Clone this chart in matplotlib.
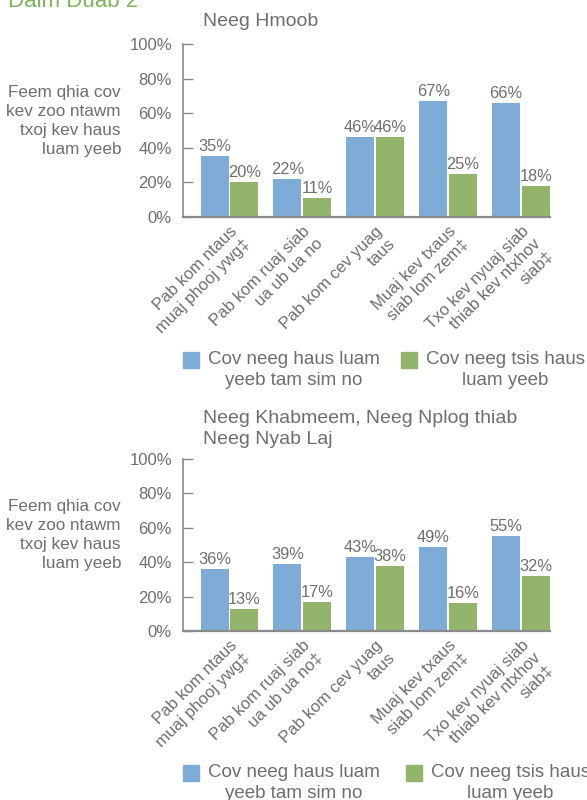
import matplotlib
matplotlib.use('Agg')
import matplotlib.pyplot as plt
from matplotlib.patches import Rectangle
import numpy as np

plt.rcParams['font.family'] = ['Liberation Sans', 'DejaVu Sans']

# ---------------- data ----------------
fig_title = "Daim Duab 2"
title_top = "Neeg Hmoob"
title_bottom = "Neeg Khabmeem, Neeg Nplog thiab\nNeeg Nyab Laj"
ylabel_text = "Feem qhia cov\nkev zoo ntawm\ntxoj kev haus\nluam yeeb"

categories_top = ["Pab kom ntaus\nmuaj phooj ywg‡", "Pab kom ruaj siab\nua ub ua no",
                  "Pab kom cev yuag\ntaus", "Muaj kev txaus\nsiab lom zem‡",
                  "Txo kev nyuaj siab\nthiab kev ntxhov\nsiab‡"]
categories_bottom = ["Pab kom ntaus\nmuaj phooj ywg‡", "Pab kom ruaj siab\nua ub ua no‡",
                     "Pab kom cev yuag\ntaus", "Muaj kev txaus\nsiab lom zem‡",
                     "Txo kev nyuaj siab\nthiab kev ntxhov\nsiab‡"]

current_top = [35, 22, 46, 67, 66]
former_top = [20, 11, 46, 25, 18]
current_bottom = [36, 39, 43, 49, 55]
former_bottom = [13, 17, 38, 16, 32]

series_names = ["Cov neeg haus luam\nyeeb tam sim no", "Cov neeg tsis haus\nluam yeeb"]
yticks = [0, 20, 40, 60, 80, 100]
ytick_labels = ["0%", "20%", "40%", "60%", "80%", "100%"]

# ---------------- style ----------------
BLUE = '#7facd6'
GREEN = '#93b46b'
TXT = '#6e6e6e'
AX = '#8a8a8a'
TITLE_GREEN = '#7ab55c'

W, H = 587, 800
fig = plt.figure(figsize=(W / 100, H / 100), dpi=100)

def px(x, y):
    return x / W, 1 - y / H

bw = 0.385
off = 0.205

def make_panel(rect_px, cur, form, cats, title, title_y, ylab_y, leg_y, green_leg_x):
    x0, y0, x1, y1 = rect_px  # left, top(100%), right, bottom(0%)
    ax = fig.add_axes([x0 / W, 1 - y1 / H, (x1 - x0) / W, (y1 - y0) / H])
    x = np.arange(len(cats))
    b1 = ax.bar(x - off, cur, width=bw, color=BLUE, zorder=2)
    b2 = ax.bar(x + off, form, width=bw, color=GREEN, zorder=2)
    ax.bar_label(b1, labels=[f"{v}%" for v in cur], padding=1.5, fontsize=11.8, color=TXT)
    ax.bar_label(b2, labels=[f"{v}%" for v in form], padding=1.5, fontsize=11.8, color=TXT)
    ax.set_xlim(-0.638, len(cats) - 1 + off + bw / 2)
    ax.set_ylim(0, 100)
    ax.set_yticks(yticks)
    ax.set_yticklabels(ytick_labels)
    ax.tick_params(axis='y', direction='in', length=7, width=1.0, color=AX,
                   labelsize=12, labelcolor=TXT, pad=8)
    ax.set_xticks(x)
    ax.set_xticklabels(cats, rotation=45, ha='right', va='top', rotation_mode='anchor',
                       fontsize=12, color=TXT, linespacing=1.2)
    ax.tick_params(axis='x', length=0, pad=5)
    for s in ['top', 'right']:
        ax.spines[s].set_visible(False)
    ax.spines['left'].set_color(AX)
    ax.spines['left'].set_linewidth(1.2)
    ax.spines['bottom'].set_color(AX)
    ax.spines['bottom'].set_linewidth(1.6)
    ax.spines['bottom'].set_zorder(3)
    # panel title
    tx, ty = px(203, title_y)
    fig.text(tx, ty, title, fontsize=14, color=TXT, ha='left', va='top', linespacing=1.3)
    # y label
    lx, ly = px(121, ylab_y)
    fig.text(lx, ly, ylabel_text, fontsize=12.3, color=TXT, ha='right', va='center',
             multialignment='right', linespacing=1.35)
    # legend
    for name, col, sx, tx0 in [(series_names[0], BLUE, 183, 208),
                               (series_names[1], GREEN, green_leg_x, green_leg_x + 25)]:
        rx, ry = px(sx, leg_y + 8)
        fig.patches.append(Rectangle((rx, ry), 16 / W, 16 / H, transform=fig.transFigure,
                                     color=col, zorder=3))
        ttx, tty = px(tx0, leg_y + 10)
        fig.text(ttx, tty, name, fontsize=13.5, color=TXT, ha='left', va='center',
                 multialignment='center', linespacing=1.25)
    return ax

make_panel((183, 44, 550, 217), current_top, former_top, categories_top,
           title_top, 13, 121, 360, 401)
make_panel((183, 459, 550, 631), current_bottom, former_bottom, categories_bottom,
           title_bottom, 410, 535, 773, 406)

fx, fy = px(8, 7)
fig.text(fx, fy, fig_title, fontsize=16, color=TITLE_GREEN, ha='left', va='baseline')

fig.savefig('out.png', dpi=100)
